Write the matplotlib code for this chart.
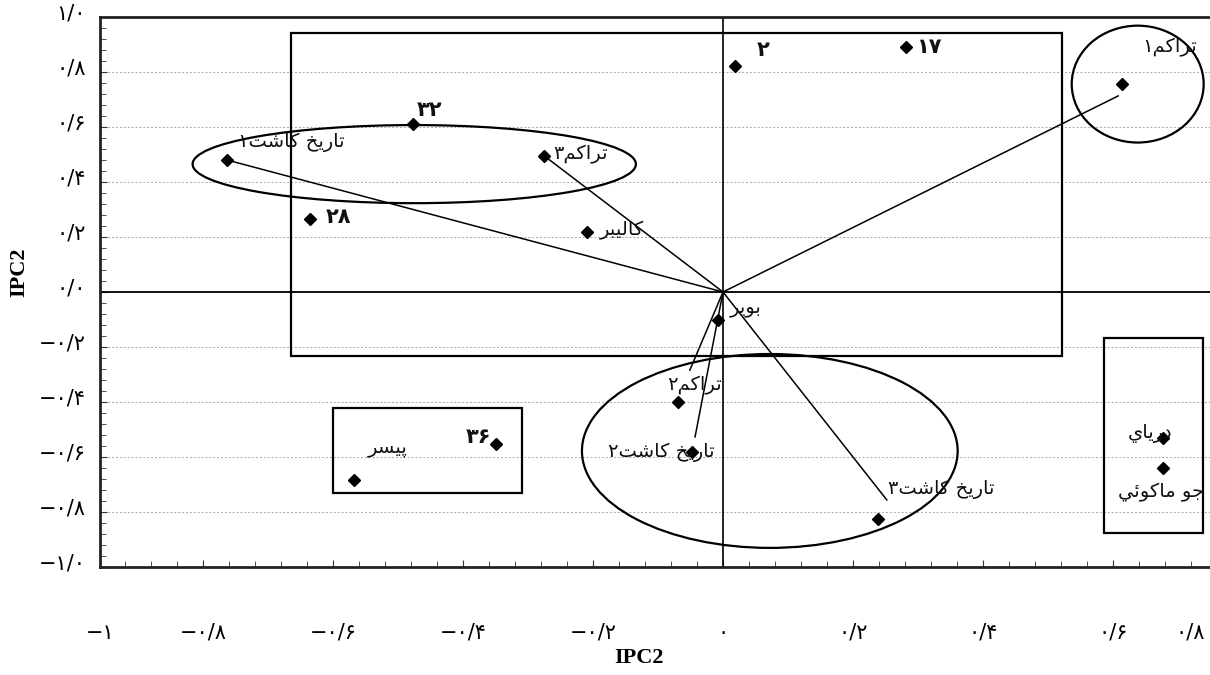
import matplotlib
matplotlib.use("Agg")
import matplotlib.pyplot as plt
from matplotlib import patches
from matplotlib.ticker import MultipleLocator, FuncFormatter
from matplotlib.transforms import ScaledTranslation

# ---------------- data ----------------
point_names = ["۳۲", "تاریخ کاشت۱", "۲۸", "تراکم۳", "کالیبر", "۲", "۱۷", "تراکم۱",
               "بویر", "تراکم۲", "تاریخ کاشت۲", "تاریخ کاشت۳", "۳۶", "پیسر",
               "دریاي", "جو ماکوئي"]
point_x = [-0.477, -0.763, -0.635, -0.275, -0.209, 0.018, 0.282, 0.614,
           -0.008, -0.069, -0.048, 0.238, -0.349, -0.568, 0.677, 0.677]
point_y = [0.611, 0.480, 0.265, 0.495, 0.218, 0.822, 0.891, 0.756,
           -0.102, -0.400, -0.582, -0.825, -0.553, -0.684, -0.531, -0.640]

# vector end points (lines drawn from the origin)
vector_x = [-0.763, -0.275, 0.608, -0.051, -0.043, 0.252]
vector_y = [0.480, 0.495, 0.713, -0.284, -0.527, -0.756]

x_label = "IPC2"
y_label = "IPC2"

# ---------------- helpers ----------------
FORMS = {
    'ا': ('\uFE8D', '\uFE8E', None, None),
    'ب': ('\uFE8F', '\uFE90', '\uFE91', '\uFE92'),
    'پ': ('\uFB56', '\uFB57', '\uFB58', '\uFB59'),
    'ت': ('\uFE95', '\uFE96', '\uFE97', '\uFE98'),
    'ج': ('\uFE9D', '\uFE9E', '\uFE9F', '\uFEA0'),
    'خ': ('\uFEA5', '\uFEA6', '\uFEA7', '\uFEA8'),
    'د': ('\uFEA9', '\uFEAA', None, None),
    'ر': ('\uFEAD', '\uFEAE', None, None),
    'س': ('\uFEB1', '\uFEB2', '\uFEB3', '\uFEB4'),
    'ش': ('\uFEB5', '\uFEB6', '\uFEB7', '\uFEB8'),
    'ک': ('\uFB8E', '\uFB8F', '\uFB90', '\uFB91'),
    'ل': ('\uFEDD', '\uFEDE', '\uFEDF', '\uFEE0'),
    'م': ('\uFEE1', '\uFEE2', '\uFEE3', '\uFEE4'),
    'و': ('\uFEED', '\uFEEE', None, None),
    'ی': ('\uFBFC', '\uFBFD', '\uFBFE', '\uFBFF'),
    'ي': ('\uFEF1', '\uFEF2', '\uFEF3', '\uFEF4'),
    'ئ': ('\uFE89', '\uFE8A', '\uFE8B', '\uFE8C'),
}


def shape(s):
    if not any(c in FORMS for c in s):
        return s
    out = []
    for i, c in enumerate(s):
        if c not in FORMS:
            out.append(c)
            continue
        prev = s[i - 1] if i > 0 else None
        nxt = s[i + 1] if i + 1 < len(s) else None
        jp = prev in FORMS and FORMS[prev][2] is not None
        jn = nxt in FORMS and FORMS[c][2] is not None
        f = FORMS[c]
        if jp and jn:
            g = f[3]
        elif jp:
            g = f[1]
        elif jn:
            g = f[2]
        else:
            g = f[0]
        out.append(g)
    return ''.join(reversed(out))


PDIG = str.maketrans("0123456789-", "۰۱۲۳۴۵۶۷۸۹−")


def fa_num(v, yaxis):
    if abs(v) < 1e-9:
        return "۰/۰" if yaxis else "۰"
    s = f"{v:.1f}"
    if not yaxis and s.endswith(".0"):
        s = s[:-2]
    return s.replace(".", "/").translate(PDIG)


# label offsets (pixels) and alignment for each point label
label_dx = [4, 64, 15, 9, 13, 22, 10, 20, 12, -11, -31, 10, -5, 14, -13, -2]
label_dy = [14, 18, 2, 1, 2, 16, 0, 37, 13, 17, 0, 30, 7, 33, 5, -24]
label_ha = ["left", "center", "left", "left", "left", "left", "left", "left",
            "left", "left", "center", "left", "right", "left", "center", "center"]

plt.rcParams['font.family'] = ['DejaVu Sans']

W, H = 1210, 675
fig = plt.figure(figsize=(W / 100, H / 100), dpi=100)
ax = fig.add_axes([100 / W, 1 - 567 / H, 1110 / W, 550 / H])
ax.set_xlim(-623 / 650, 487 / 650)
ax.set_ylim(-1, 1)

# grid
ax.yaxis.set_major_locator(MultipleLocator(0.2))
ax.yaxis.set_minor_locator(MultipleLocator(0.04))
ax.xaxis.set_major_locator(MultipleLocator(0.2))
ax.xaxis.set_minor_locator(MultipleLocator(0.04))
ax.grid(axis='y', which='major', color='#a8a8a8', linestyle=(0, (2, 2)), linewidth=0.7)
ax.set_axisbelow(True)

# axes lines
ax.axhline(0, color='black', lw=1.3, zorder=2)
ax.axvline(0, color='black', lw=1.2, zorder=2)

# vectors
for ex, ey in zip(vector_x, vector_y):
    ax.plot([0, ex], [0, ey], color='black', lw=1.1, zorder=3)

# shapes
shape_kw = dict(fill=False, edgecolor='black', lw=1.6, zorder=3)
ax.add_patch(patches.Rectangle((-0.665, -0.233), 0.522 + 0.665, 0.942 + 0.233, **shape_kw))
ax.add_patch(patches.Rectangle((-0.600, -0.731), 0.291, 0.309, **shape_kw))
ax.add_patch(patches.Rectangle((0.586, -0.876), 0.152, 0.709, **shape_kw))
ax.add_patch(patches.Ellipse((-0.475, 0.465), 0.682, 0.284, **shape_kw))
ax.add_patch(patches.Ellipse((0.638, 0.756), 0.203, 0.425, **shape_kw))
ax.add_patch(patches.Ellipse((0.072, -0.578), 0.578, 0.705, **shape_kw))

# points
ax.plot(point_x, point_y, linestyle='none', marker='D', color='black', ms=6.5, zorder=4)

for name, x, y, dx, dy, ha in zip(point_names, point_x, point_y, label_dx, label_dy, label_ha):
    numeric = not any(c in FORMS for c in name)
    ax.annotate(shape(name), (x, y), xytext=(dx, dy), textcoords='offset pixels',
                ha=ha, va='center', fontsize=15 if numeric else 14,
                fontweight='bold' if numeric else 'normal', color='#111111', zorder=5)

# ticks
ax.tick_params(axis='both', which='both', direction='in', color='#333333')
ax.tick_params(axis='both', which='major', length=5, width=0.8)
ax.tick_params(axis='both', which='minor', length=4, width=0.6)
ax.tick_params(axis='y', which='major', pad=10, labelsize=15)
ax.tick_params(axis='x', which='major', pad=40, labelsize=15)
ax.yaxis.set_major_formatter(FuncFormatter(lambda v, p: fa_num(v, True)))
ax.xaxis.set_major_formatter(FuncFormatter(lambda v, p: fa_num(v, False)))
off = ScaledTranslation(0, 4 / 72, fig.dpi_scale_trans)
for lab in ax.get_yticklabels():
    lab.set_transform(lab.get_transform() + off)

# edge tick labels typed outside range
ax.text(0.0, -0.12, "−۱", transform=ax.transAxes, ha='center', va='center', fontsize=15)
ax.text(0.982, -0.12, "۰/۸", transform=ax.transAxes, ha='center', va='center', fontsize=15)

for s in ['left', 'bottom', 'top']:
    ax.spines[s].set_linewidth(2.0)
    ax.spines[s].set_color('#222222')
ax.spines['right'].set_visible(False)

ax.set_xlabel(x_label, fontfamily='Liberation Serif', fontweight='bold', fontsize=16)
ax.set_ylabel(y_label, fontfamily='Liberation Serif', fontweight='bold', fontsize=16)
ax.xaxis.set_label_coords(0.486, -0.148)
ax.yaxis.set_label_coords(-0.064, 0.536)

fig.savefig("out.png", dpi=100)
